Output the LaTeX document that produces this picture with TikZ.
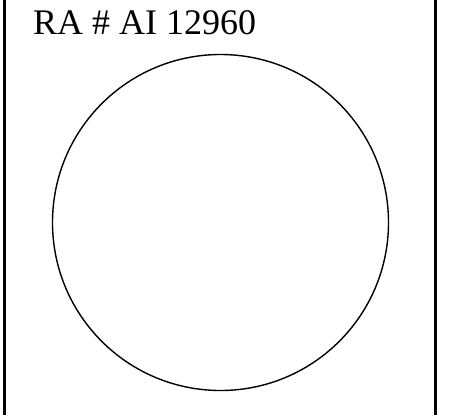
\documentclass[tikz,border=0pt]{standalone}
\usepackage{fontspec}
\setmainfont{Liberation Serif}
\begin{document}
\begin{tikzpicture}[x=1pt,y=-1pt,
  frame/.style={line width=3pt,black},
  ring/.style={draw,line width=1.4pt,black},
  label/.style={anchor=base west,inner sep=0pt,font=\fontsize{36}{40}\selectfont}]
\useasboundingbox (0,0) rectangle (449,415);
\coordinate (lt) at (4.5,0);
\coordinate (lb) at (4.5,415);
\coordinate (rt) at (435.8,0);
\coordinate (rb) at (435.8,415);
\draw[frame] (lt) -- (lb);
\draw[frame] (rt) -- (rb);
\node[label] (title) at (33,34) {RA \# AI 12960};
\node[ring,circle,minimum size=336pt,inner sep=0pt] (c) at (220.5,222.5) {};
\end{tikzpicture}
\end{document}
